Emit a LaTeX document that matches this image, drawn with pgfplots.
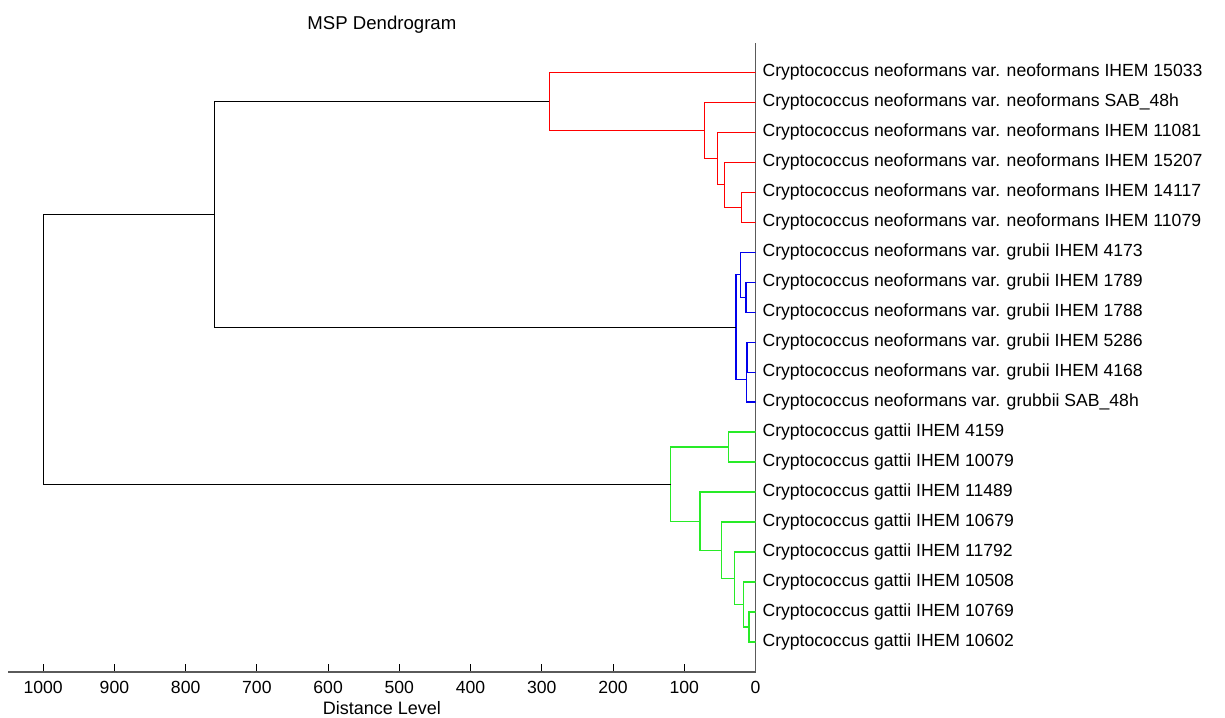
\documentclass[border=0pt]{standalone}
\usepackage{fontspec}
\setmainfont{Liberation Sans}
\usepackage{pgfplots}
\pgfplotsset{compat=1.18}
\definecolor{cred}{RGB}{255,0,0}
\definecolor{cblue}{RGB}{0,0,235}
\definecolor{cgreen}{RGB}{40,235,40}
\definecolor{axgray}{RGB}{90,90,90}
\begin{document}
\begin{tikzpicture}
\begin{axis}[
  scale only axis, width=373.6pt, height=314.5pt,
  x dir=reverse, y dir=reverse,
  xmin=0, xmax=1049, ymin=0.03, ymax=21,
  axis x line*=bottom, axis y line*=right,
  axis line style={axgray, line width=0.6pt},
  tick align=inside, major tick length=4pt,
  tick style={black, line width=0.5pt},
  xtick={0,100,...,1000},
  ytick={1,...,20},
  yticklabels={
    Cryptococcus neoformans var. neoformans IHEM 15033,
    Cryptococcus neoformans var. neoformans SAB\_48h,
    Cryptococcus neoformans var. neoformans IHEM 11081,
    Cryptococcus neoformans var. neoformans IHEM 15207,
    Cryptococcus neoformans var. neoformans IHEM 14117,
    Cryptococcus neoformans var. neoformans IHEM 11079,
    Cryptococcus neoformans var. grubii IHEM 4173,
    Cryptococcus neoformans var. grubii IHEM 1789,
    Cryptococcus neoformans var. grubii IHEM 1788,
    Cryptococcus neoformans var. grubii IHEM 5286,
    Cryptococcus neoformans var. grubii IHEM 4168,
    Cryptococcus neoformans var. grubbii SAB\_48h,
    Cryptococcus gattii IHEM 4159,
    Cryptococcus gattii IHEM 10079,
    Cryptococcus gattii IHEM 11489,
    Cryptococcus gattii IHEM 10679,
    Cryptococcus gattii IHEM 11792,
    Cryptococcus gattii IHEM 10508,
    Cryptococcus gattii IHEM 10769,
    Cryptococcus gattii IHEM 10602},
  ticklabel style={font=\fontsize{8.8}{11}\selectfont},
  /pgf/number format/assume math mode=true,
  /pgf/number format/1000 sep={},
  xticklabel style={yshift=-1pt},
  yticklabel style={anchor=west, xshift=0pt},
  title={MSP Dendrogram},
  title style={font=\fontsize{9.3}{11}\selectfont, yshift=-4.5pt},
  xlabel={Distance Level},
  xlabel style={font=\fontsize{9}{11}\selectfont, yshift=3pt},
  every axis plot/.append style={line width=0.55pt, mark=none},
]
% red cluster
\addplot[cred] coordinates {(0,5) (19.4,5) (19.4,6) (0,6)};
\addplot[cred] coordinates {(0,4) (43.8,4) (43.8,5.5) (19.4,5.5)};
\addplot[cred] coordinates {(0,3) (53.1,3) (53.1,4.75) (43.8,4.75)};
\addplot[cred] coordinates {(0,2) (71.9,2) (71.9,3.875) (53.1,3.875)};
\addplot[cred] coordinates {(0,1) (289.5,1) (289.5,2.9375) (71.9,2.9375)};
% blue cluster
\addplot[cblue] coordinates {(0,8) (13.3,8) (13.3,9) (0,9)};
\addplot[cblue] coordinates {(0,7) (20.8,7) (20.8,8.5) (13.3,8.5)};
\addplot[cblue] coordinates {(0,10) (12,10) (12,11) (0,11)};
\addplot[cblue] coordinates {(12,10.5) (13,10.5) (13,12) (0,12)};
\addplot[cblue] coordinates {(20.8,7.75) (27.4,7.75) (27.4,11.25) (13,11.25)};
% green cluster
\addplot[cgreen] coordinates {(0,13) (37.6,13) (37.6,14) (0,14)};
\addplot[cgreen] coordinates {(0,19) (9.1,19) (9.1,20) (0,20)};
\addplot[cgreen] coordinates {(0,18) (17.1,18) (17.1,19.5) (9.1,19.5)};
\addplot[cgreen] coordinates {(0,17) (29.8,17) (29.8,18.75) (17.1,18.75)};
\addplot[cgreen] coordinates {(0,16) (47.5,16) (47.5,17.875) (29.8,17.875)};
\addplot[cgreen] coordinates {(0,15) (77.9,15) (77.9,16.9375) (47.5,16.9375)};
\addplot[cgreen] coordinates {(37.6,13.5) (119.1,13.5) (119.1,15.96875) (77.9,15.96875)};
% upper links
\addplot[black] coordinates {(289.5,1.96875) (760,1.96875) (760,9.5) (27.4,9.5)};
\addplot[black] coordinates {(760,5.734) (1000,5.734) (1000,14.734) (119.1,14.734)};
\end{axis}
\pgfresetboundingbox
\path (-4.15pt,-22.5pt) rectangle (608.35pt,336pt);
\end{tikzpicture}
\end{document}
